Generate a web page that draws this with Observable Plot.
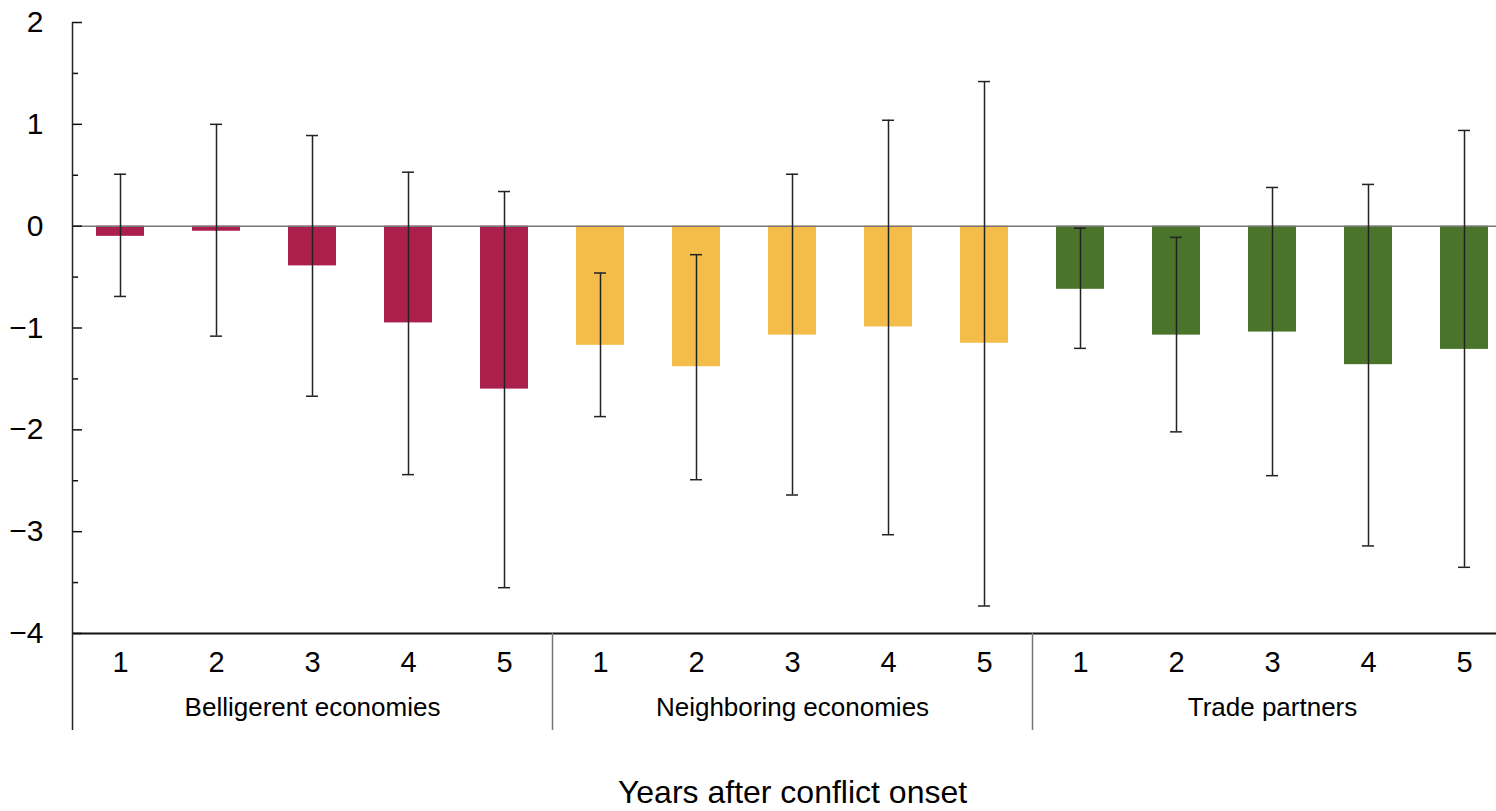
<!DOCTYPE html>
<html><head><meta charset="utf-8">
<script src="https://cdn.jsdelivr.net/npm/d3@7"></script>
<script src="https://cdn.jsdelivr.net/npm/@observablehq/plot@0.6"></script>
<style>body{margin:0;background:#fff} svg{display:block}</style>
</head><body><div id="chart"></div>
<script>
const groups = ["Belligerent economies", "Neighboring economies", "Trade partners"];
const years = [1, 2, 3, 4, 5];
const groupColors = ["#AB1F4C", "#F4BD4A", "#4A7429"];
const belligerent     = [-0.10, -0.05, -0.39, -0.95, -1.60];
const belligerentLow  = [-0.69, -1.08, -1.67, -2.44, -3.55];
const belligerentHigh = [ 0.51,  1.00,  0.89,  0.53,  0.34];
const neighboring     = [-1.17, -1.38, -1.07, -0.99, -1.15];
const neighboringLow  = [-1.87, -2.49, -2.64, -3.03, -3.73];
const neighboringHigh = [-0.46, -0.28,  0.51,  1.04,  1.42];
const trade           = [-0.62, -1.07, -1.04, -1.36, -1.21];
const tradeLow        = [-1.20, -2.02, -2.45, -3.14, -3.35];
const tradeHigh       = [-0.02, -0.11,  0.38,  0.41,  0.94];
const yTicks = [-4, -3, -2, -1, 0, 1, 2];
const yMinorTicks = [-3.5, -2.5, -1.5, -0.5, 0.5, 1.5];
const xTitle = "Years after conflict onset";

const series = [
  [belligerent, belligerentLow, belligerentHigh],
  [neighboring, neighboringLow, neighboringHigh],
  [trade, tradeLow, tradeHigh]
];
const rows = [];
groups.forEach((g, gi) => years.forEach((yr, i) => rows.push({
  key: `${g}|${yr}`, group: g, year: yr,
  value: series[gi][0][i], lo: series[gi][1][i], hi: series[gi][2][i]
})));
const keys = rows.map(d => d.key);
const yMin = d3.min(yTicks), yMax = d3.max(yTicks);
const fmt = d => d < 0 ? "\u2212" + Math.abs(d) : String(d);
const font = "Liberation Sans, Arial, Helvetica, sans-serif";
const W = 1496, H = 811, ML = 72, MT = 22, MB = 178;
const frameW = W - ML;

const axisLines = [
  {k: keys[0], top: yMax, bottom: yMin, stroke: "#222"},
  {k: keys[5], top: yMin, bottom: yMin, stroke: "#777"},
  {k: keys[10], top: yMin, bottom: yMin, stroke: "#777"}
];

const chart = Plot.plot({
  width: W, height: H,
  marginLeft: ML, marginRight: 0, marginTop: MT, marginBottom: MB,
  style: {fontFamily: font, color: "#000", background: "#fff"},
  x: {type: "band", domain: keys, range: [ML, ML + 1440], paddingInner: 0.5, paddingOuter: 0.25, axis: null},
  y: {domain: [yMin, yMax], axis: null},
  color: {domain: groups, range: groupColors},
  marks: [
    Plot.barY(rows, {x: "key", y: "value", fill: "group"}),
    Plot.ruleY([0], {stroke: "#777", strokeWidth: 1.5}),
    Plot.ruleX(rows, {x: "key", y1: "lo", y2: "hi", stroke: "#222", strokeWidth: 1.5}),
    Plot.tickY(rows, {x: "key", y: "lo", insetLeft: 18, insetRight: 18, stroke: "#222", strokeWidth: 1.5}),
    Plot.tickY(rows, {x: "key", y: "hi", insetLeft: 18, insetRight: 18, stroke: "#222", strokeWidth: 1.5}),
    // bottom axis line
    Plot.ruleY([yMin], {stroke: "#111", strokeWidth: 2}),
    // y ticks (inward)
    Plot.tickY(yTicks, {y: d => d, insetRight: frameW - 10, stroke: "#111", strokeWidth: 1.5}),
    Plot.tickY(yMinorTicks, {y: d => d, insetRight: frameW - 6, stroke: "#111", strokeWidth: 1.5}),
    // left axis line and group separators
    Plot.ruleX(axisLines, {x: "k", y1: "top", y2: "bottom", dx: -48, insetBottom: -97, stroke: "stroke", strokeWidth: 1.5}),
    // y labels
    Plot.text(yTicks, {y: d => d, frameAnchor: "left", dx: -29, textAnchor: "end", text: fmt, fontSize: 30, fill: "#000"}),
    // year labels
    Plot.text(rows, {x: "key", y: () => yMin, dy: 29, text: d => String(d.year), fontSize: 29, fill: "#000"}),
    // group labels
    Plot.text(groups, {x: g => `${g}|3`, y: () => yMin, dy: 74, text: g => g, fontSize: 26, fill: "#000"}),
    // x title
    Plot.text([xTitle], {x: () => `${groups[1]}|3`, y: () => yMin, dy: 159, text: d => d, fontSize: 32, fill: "#000"})
  ]
});
document.getElementById("chart").appendChild(chart);
</script>
</body></html>
